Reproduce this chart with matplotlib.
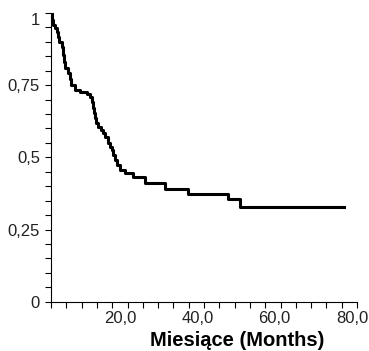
import matplotlib
matplotlib.use("Agg")
import matplotlib.pyplot as plt
import numpy as np

plt.rcParams['font.family'] = ['Liberation Sans', 'DejaVu Sans']

# Kaplan-Meier curve: time (months) and survival after each drop
czas = [2.15, 2.40, 2.66, 3.18, 3.62, 3.96, 4.22, 4.91, 5.27, 5.59, 5.77, 6.62,
        7.06, 7.32, 8.35, 9.65, 11.38, 12.23, 12.67, 13.0, 13.27, 13.52, 13.78,
        14.3, 15.08, 15.6, 16.11, 16.89, 17.41, 17.92, 18.18, 18.7, 19.2, 20.0,
        21.3, 23.35, 26.45, 31.6, 37.6, 47.9, 51.0, 77.9]
przezycie = [1.0, 0.976, 0.958, 0.948, 0.934, 0.917, 0.899, 0.882, 0.855, 0.831,
             0.810, 0.793, 0.772, 0.751, 0.733, 0.726, 0.719, 0.709, 0.692, 0.671,
             0.654, 0.636, 0.619, 0.605, 0.595, 0.584, 0.571, 0.550, 0.536, 0.525,
             0.508, 0.491, 0.474, 0.456, 0.446, 0.432, 0.411, 0.390, 0.373, 0.356,
             0.328, 0.328]

x_ticks = [20, 40, 60, 80]
x_labels = ['20,0', '40,0', '60,0', '80,0']
y_ticks = [0, 0.25, 0.5, 0.75, 1]
y_labels = ['0', '0,25', '0,5', '0,75', '1']

fig = plt.figure(figsize=(3.69, 3.51), dpi=100)
ax = fig.add_axes([51 / 369, 1 - 301.7 / 351, 306 / 369, 288.7 / 351])

ax.step(czas, przezycie, where='post', color='black', lw=2.2)

ax.set_xlim(2.15, 81.3)
ax.set_ylim(0, 1)

for s in ['top', 'right']:
    ax.spines[s].set_visible(False)
for s in ['left', 'bottom']:
    ax.spines[s].set_linewidth(0.8)

ax.set_xticks(x_ticks)
ax.set_xticklabels(x_labels)
ax.set_xticks(np.linspace(2.15, 81.3, 21), minor=True)
ax.tick_params(axis='x', which='major', length=0, pad=7, labelsize=12, labelcolor='#222222')
ax.tick_params(axis='x', which='minor', length=4, width=0.8, direction='out')

ax.set_yticks(y_ticks)
ax.set_yticklabels(y_labels)
ax.set_yticks(np.arange(0, 1.001, 0.05), minor=True)
ax.tick_params(axis='y', which='both', length=4, width=0.8, direction='out')
ax.tick_params(axis='y', which='major', pad=4, labelsize=12, labelcolor='#222222')
ax.get_yticklabels()[-1].set_verticalalignment('top')

fig.text(237 / 369, 1 - 340 / 351, 'Miesiące (Months)', ha='center', va='center',
         fontsize=14.5, fontweight='bold')

fig.savefig('out.png', dpi=100)
